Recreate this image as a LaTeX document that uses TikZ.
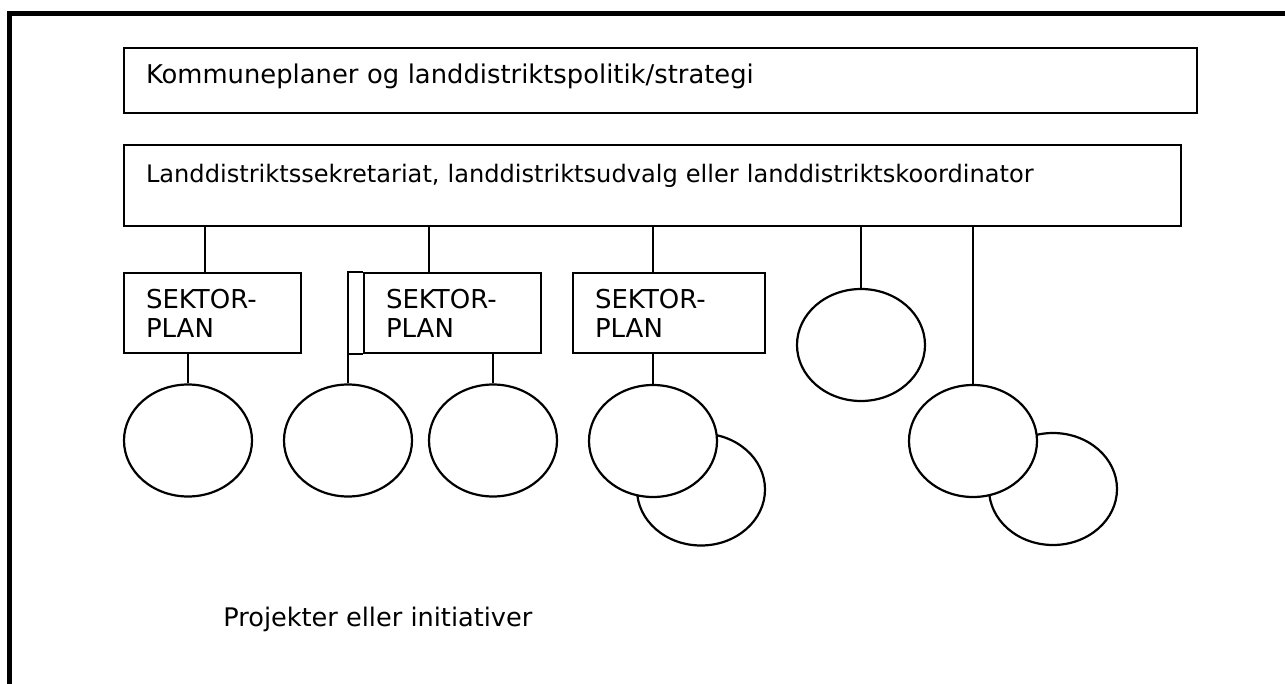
\documentclass[tikz,border=0pt]{standalone}
\usepackage{fontspec}
\setmainfont{DejaVu Sans}
\usetikzlibrary{shapes.geometric,positioning}
\tikzset{
  widebox/.style={draw,line width=1.1pt,inner xsep=11pt,align=left},
  sektorbox/.style={draw,line width=1.1pt,inner xsep=11pt,minimum height=40pt,
    align=left,font=\fontsize{13}{14.5}\selectfont},
  blob/.style={ellipse,draw,line width=1.1pt,fill=white,inner sep=0pt,
    minimum width=64pt,minimum height=56pt},
  link/.style={line width=1.1pt},
  frame/.style={line width=2.6pt}
}

\begin{document}
\begin{tikzpicture}[x=0.5pt,y=-0.5pt]
  \useasboundingbox (0,0) rectangle (1285,684);
  \draw[frame] (9.5,684) |- (1285,13.5);

  % top boxes
  \node[widebox,text width=514.5pt,minimum height=32.5pt,text depth=7pt,
    font=\fontsize{12.9}{15}\selectfont] (plan) at (660.5,80.5)
    {Kommuneplaner og landdistriktspolitik/strategi};
  \node[widebox,text width=506.5pt,minimum height=40.5pt,text depth=12.6pt,
    font=\fontsize{12.05}{14}\selectfont] (sek) at (652.5,185.5)
    {Landdistriktssekretariat, landdistriktsudvalg eller landdistriktskoordinator};

  % sector plans
  \node[sektorbox,text width=66.5pt] (sp1) at (212.5,313) {SEKTOR-\\PLAN};
  \node[sektorbox,text width=66.5pt] (sp2) at (452.5,313) {SEKTOR-\\PLAN};
  \node[sektorbox,text width=74pt] (sp3) at (669,313) {SEKTOR-\\PLAN};
  \draw[link] (sp2.north west) -- ++(-7.5pt,0pt) |- (sp2.south west);

  % projects
  \node[blob] (e1) at (188,440.5) {};
  \node[blob] (e2) at (348,440.5) {};
  \node[blob] (e3) at (493,440.5) {};
  \node[blob] (e5b) at (701,489.5) {};
  \node[blob] (e5) at (653,441) {};
  \node[blob] (e4) at (861,345) {};
  \node[blob] (e6b) at (1053,489) {};
  \node[blob] (e6) at (973,441) {};

  \path (sp1.north) ++(-3.75pt,0pt) coordinate (t1);
  \path (sp2.north) ++(-11.75pt,0pt) coordinate (t2);
  \path (sp3.north) ++(-8pt,0pt) coordinate (t3);
  \draw[link] (t1) -- (t1 |- sek.south);
  \draw[link] (t2) -- (t2 |- sek.south);
  \draw[link] (t3) -- (t3 |- sek.south);
  \draw[link] (e4.north) -- (e4.north |- sek.south);
  \draw[link] (e6.north) -- (e6.north |- sek.south);
  \draw[link] (e1.north) -- (e1.north |- sp1.south);
  \draw[link] (e2.north) -- (e2.north |- sp2.south);
  \draw[link] (e3.north) -- (e3.north |- sp2.south);
  \draw[link] (e5.north) -- (e5.north |- sp3.south);

  \node[anchor=base west,inner sep=0pt,font=\fontsize{12.8}{15}\selectfont] (proj) at (223,626)
    {Projekter eller initiativer};
\end{tikzpicture}
\end{document}
